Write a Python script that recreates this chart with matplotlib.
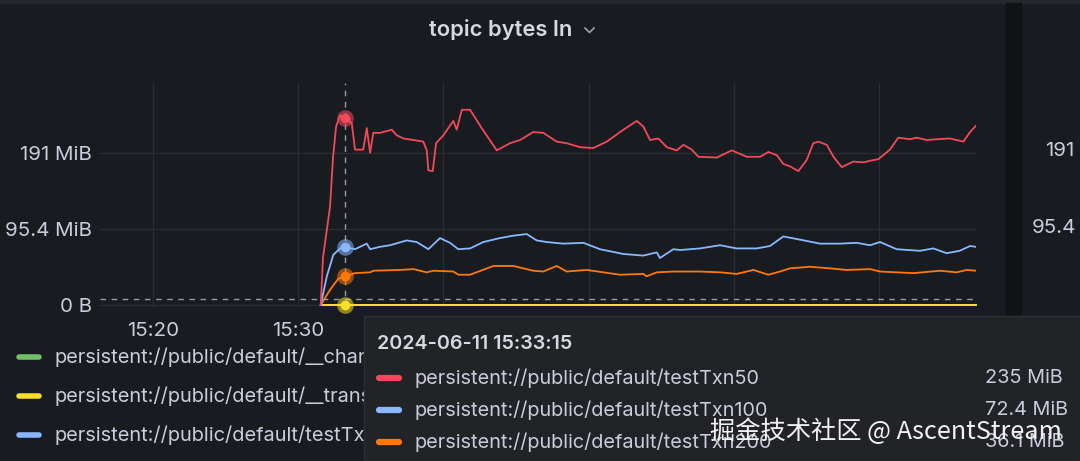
import numpy as np
import pandas as pd
import matplotlib
matplotlib.use("Agg")
import matplotlib.pyplot as plt
import matplotlib.dates as mdates
from matplotlib.patches import Rectangle

# times are minutes after 15:30, values in MiB
red_t = [1.56, 1.72, 2.20, 2.41, 2.62, 2.89, 3.25, 3.70, 3.92, 4.49,
         4.73, 4.96, 5.18, 5.64, 6.45, 6.79, 7.25, 7.94, 8.62, 8.86,
         8.97, 9.27, 9.50, 10.0, 10.69, 10.92, 11.27, 11.84, 12.64, 13.68,
         14.59, 15.28, 16.19, 16.88, 17.80, 18.49, 19.41, 20.32, 21.25, 22.16,
         23.31, 23.76, 24.23, 24.80, 25.38, 26.06, 26.52, 27.10, 27.55, 28.82,
         29.85, 30.88, 31.80, 32.37, 32.95, 33.40, 33.86, 34.43, 35.01, 35.46,
         35.81, 36.39, 36.85, 37.42, 38.22, 38.91, 39.37, 39.94, 40.74, 41.31,
         42.12, 42.58, 43.27, 43.96, 44.87, 45.79, 46.25, 46.66]
red_v = [0, 60, 123, 186, 224, 238, 235, 228, 195, 195,
         222, 191, 216, 216, 220, 213, 209, 207, 205, 194,
         169, 168, 203, 213, 231, 220, 245, 245, 222, 194,
         203, 207, 217, 216, 205, 203, 198, 197, 205, 217,
         231, 224, 207, 209, 198, 194, 201, 195, 186, 185,
         194, 186, 186, 192, 188, 177, 174, 168, 182, 203,
         205, 201, 186, 173, 180, 179, 181, 183, 195, 210,
         208, 210, 207, 208, 209, 205, 217, 225]

blue_t = [1.56, 1.98, 2.43, 2.89, 3.25, 3.92, 4.73, 4.96, 5.64, 6.33,
          7.48, 8.17, 8.97, 9.77, 10.46, 11.03, 11.84, 12.75, 13.90, 14.82,
          15.74, 16.43, 17.12, 18.26, 19.64, 20.78, 22.39, 23.76, 24.69, 24.91,
          25.83, 26.29, 27.67, 29.04, 30.19, 31.57, 32.48, 33.40, 34.55, 35.93,
          37.30, 38.45, 39.37, 40.06, 41.20, 42.81, 43.72, 44.64, 45.53, 46.25,
          46.66]
blue_v = [0, 36, 63, 71, 72.4, 70, 77, 70, 73, 75,
          81, 79, 70, 84, 78, 70, 71, 79, 84, 87,
          89, 81, 79, 77, 78, 70, 64, 62, 66, 59,
          70, 69, 71, 75, 71, 71, 74, 86, 82, 77,
          77, 78, 75, 79, 70, 68, 71, 65, 68, 74,
          73]

orange_t = [1.56, 2.20, 2.77, 3.25, 3.92, 4.96, 5.18, 7.02, 7.94, 8.86,
            9.31, 10.69, 11.03, 11.84, 13.45, 14.82, 16.19, 16.88, 17.80, 18.49,
            19.87, 21.01, 22.16, 23.76, 23.99, 24.69, 25.83, 27.67, 29.04, 30.19,
            31.34, 32.37, 33.17, 33.86, 35.24, 36.61, 37.76, 39.37, 40.06, 42.35,
            44.18, 45.33, 46.02, 46.66]
orange_v = [0, 19, 33, 36.1, 40, 41, 43, 44, 45, 41,
            43, 42, 38, 38, 49, 49, 43, 42, 49, 42,
            44, 41, 38, 39, 36, 41, 42, 42, 41, 39,
            44, 38, 42, 46, 48, 46, 44, 45, 42, 40,
            43, 41, 44, 43]

zero_t = [1.56, 46.66]
zero_v = [0, 0]

legend_names = ["persistent://public/default/__change_events",
                "persistent://public/default/__transaction_buffer_snapshot",
                "persistent://public/default/testTxn100"]
tooltip_names = ["persistent://public/default/testTxn50",
                 "persistent://public/default/testTxn100",
                 "persistent://public/default/testTxn200"]
side_labels = ["191", "95.4"]

RED, BLUE, ORANGE, YELLOW, GREEN = "#f2495c", "#8ab8ff", "#ff780a", "#fade2a", "#73bf69"
BG = "#181b1f"
TXT = "#ccccdc"

base = pd.Timestamp("2024-06-11 15:30:00")
hover_min = 3.25


def to_time(mins):
    return base + pd.to_timedelta(np.asarray(mins, dtype=float), unit="m")


plt.rcParams['font.family'] = ['Inter', 'DejaVu Sans']

W, H = 1080, 461
fig = plt.figure(figsize=(W / 100, H / 100), dpi=100, facecolor=BG)


def fx(px):
    return px / W


def fy(py):
    return 1 - py / H


ax = fig.add_axes([fx(100), fy(307), fx(876), 224 / H])
ax.set_facecolor(BG)
for s in ax.spines.values():
    s.set_visible(False)

mib_per_px = 95.367 / 76
ax.set_xlim(base + pd.Timedelta(minutes=-13.63), base + pd.Timedelta(minutes=46.66))
ax.set_ylim(-2 * mib_per_px, 222 * mib_per_px)

ax.set_yticks([0, 95.367, 190.73])
ax.set_yticklabels(["0 B", "95.4 MiB", "191 MiB"])
ax.xaxis.set_major_locator(mdates.MinuteLocator(byminute=range(0, 60, 10)))
ax.xaxis.set_major_formatter(mdates.DateFormatter('%H:%M'))
ax.tick_params(length=0, colors=TXT, labelsize=14.8)
ax.tick_params(axis='y', pad=6)
ax.tick_params(axis='x', pad=11)
ax.grid(True, color="#2b2d32", lw=0.9)

ax.plot(to_time(zero_t), zero_v, color=GREEN, lw=1.4, clip_on=False)
ax.plot(to_time(zero_t), zero_v, color=YELLOW, lw=1.4, clip_on=False)
ax.plot(to_time(orange_t), orange_v, color=ORANGE, lw=1.3)
ax.plot(to_time(blue_t), blue_v, color=BLUE, lw=1.3)
ax.plot(to_time(red_t), red_v, color=RED, lw=1.3)

# crosshair
hover_time = base + pd.Timedelta(minutes=hover_min)
ax.axvline(hover_time, color="#9a9aa2", lw=1, ls=(0, (4, 4)))
ax.axhline(6 * mib_per_px, color="#9a9aa2", lw=1, ls=(0, (4, 4)))

hover_vals = []
for t, v, c in [(red_t, red_v, RED), (blue_t, blue_v, BLUE),
                (orange_t, orange_v, ORANGE), (zero_t, zero_v, YELLOW)]:
    hv = float(np.interp(hover_min, t, v))
    hover_vals.append(hv)
    ax.plot([hover_time], [hv], 'o', ms=12, color=c, alpha=0.55, mec='none', clip_on=False)
    ax.plot([hover_time], [hv], 'o', ms=7, color=c, mec='none', clip_on=False)

# title
fig.text(fx(429), fy(29), "topic bytes In", color="#d8d9e0", fontsize=15.8,
         fontweight='semibold', va='center', ha='left')
fig.lines.append(plt.Line2D([fx(585), fx(589.5), fx(594)], [fy(28), fy(32.5), fy(28)],
                            transform=fig.transFigure, color="#a0a1a8", lw=1.2))

# top border and right gutter / neighbour panel
fig.patches.append(Rectangle((0, fy(3)), 1, 3 / H, transform=fig.transFigure,
                             color="#26272c", zorder=0))
fig.patches.append(Rectangle((fx(1006), fy(316)), fx(15), 313 / H, transform=fig.transFigure,
                             color="#111216", zorder=0))
fig.text(fx(1074), fy(151), side_labels[0], color=TXT, fontsize=14.8, va='center', ha='right')
fig.text(fx(1076), fy(228), side_labels[1], color=TXT, fontsize=14.8, va='center', ha='right')

# legend
leg_colors = [GREEN, YELLOW, BLUE]
for i, (name, c) in enumerate(zip(legend_names, leg_colors)):
    y = 357 + i * 39
    fig.lines.append(plt.Line2D([fx(19), fx(39)], [fy(y), fy(y)], transform=fig.transFigure,
                                color=c, lw=4, solid_capstyle='round', zorder=1))
    fig.text(fx(55), fy(y), name, color=TXT, fontsize=14.4, va='center', ha='left', zorder=1)

# tooltip
fig.patches.append(Rectangle((fx(364), 0), 1 - fx(364), fy(316), transform=fig.transFigure,
                             facecolor="#212327", edgecolor="#2c2e33", lw=1, zorder=5))
fig.text(fx(377), fy(344), "2024-06-11 15:33:15", color="#d8d9e0", fontsize=14.2,
         fontweight='semibold', va='center', ha='left', zorder=6)
for i, (name, c, v) in enumerate(zip(tooltip_names, [RED, BLUE, ORANGE], hover_vals[:3])):
    y = 378 + i * 32
    fig.lines.append(plt.Line2D([fx(379), fx(399)], [fy(y), fy(y)], transform=fig.transFigure,
                                color=c, lw=4.5, solid_capstyle='round', zorder=6))
    fig.text(fx(415), fy(y), name, color=TXT, fontsize=14.3, va='center', ha='left', zorder=6)
    fig.text(fx(985), fy(y), f"{v:.3g} MiB", color=TXT, fontsize=14.3, va='center', ha='left',
             zorder=6)

# watermark
fig.text(fx(710), fy(432), "掘金技术社区 @ AscentStream", color="#f2f2f2", fontsize=18.2,
         family=['Noto Sans CJK SC', 'DejaVu Sans'], va='center', ha='left', zorder=7)

fig.savefig("out.png", dpi=100, facecolor=BG)
